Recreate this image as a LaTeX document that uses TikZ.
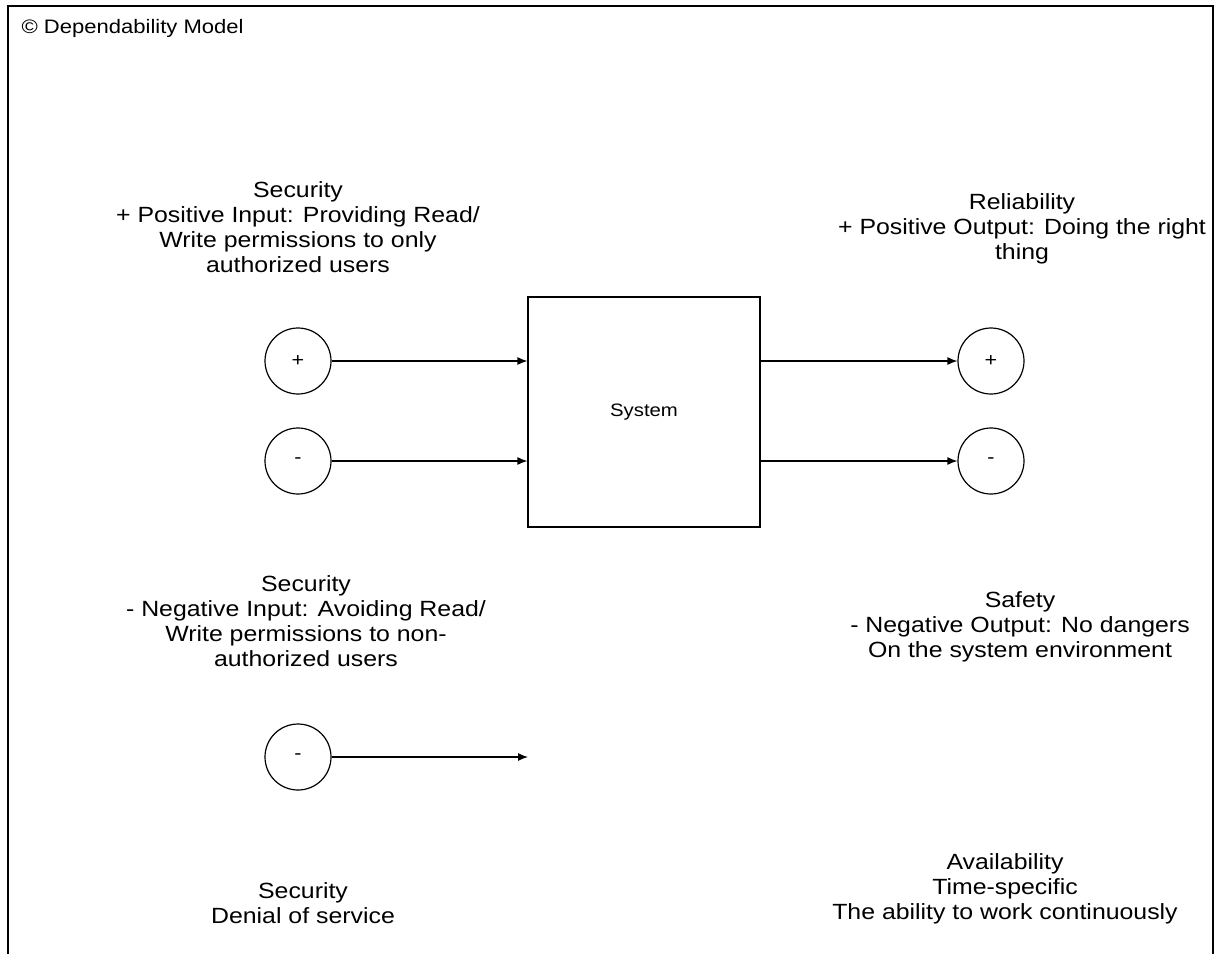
\documentclass[tikz,border=0pt]{standalone}
\usepackage{fontspec}
\setmainfont{Liberation Sans}[FakeStretch=1.13]
\usetikzlibrary{arrows.meta}

\begin{document}
\begin{tikzpicture}
[x=1pt,y=-1pt,>={Latex[length=10pt,width=8pt]},line width=1.2pt,
every node/.style={font=\fontsize{22}{25}\selectfont,align=center,inner sep=0pt},
sign/.style={draw,circle,minimum size=66pt,font=\fontsize{19}{21}\selectfont},
]
\useasboundingbox (0,0) rectangle (1221,954);
% frame
\draw[line width=1.6pt] (8,954) |- (1213,6) -- (1213,954);
\node[anchor=west,font=\fontsize{19.5}{22}\selectfont] (title) at (21,28.5) {\textcopyright{} Dependability Model};

% system and signs
\node[draw,minimum width=232pt,minimum height=230pt,font=\fontsize{18}{20}\selectfont] (sys) at (644,412) {System};
\node[sign] (posin) at (298,361) {+};
\node[sign] (negin) at (298,461) {-};
\node[sign] (dos) at (298,757) {-};
\node[sign] (posout) at (991,361) {+};
\node[sign] (negout) at (991,461) {-};
\coordinate (dosend) at (528,757);

\draw[->] (posin) -- (sys.west |- posin);
\draw[->] (negin) -- (sys.west |- negin);
\draw[->] (dos) -- (dosend);
\draw[->] (sys.east |- posout) -- (posout);
\draw[->] (sys.east |- negout) -- (negout);

% labels
\node (secpos) at (298,227) {Security\\+ Positive Input: Providing Read/\\Write permissions to only\\authorized users};
\node (rel) at (1022,229) {Reliability\\+ Positive Output: Doing the right\\thing};
\node (secneg) at (306,621) {Security\\- Negative Input: Avoiding Read/\\Write permissions to non-\\authorized users};
\node (safe) at (1020,627) {Safety\\- Negative Output: No dangers\\On the system environment};
\node (secdos) at (303,903) {Security\\Denial of service};
\node (avail) at (1005,889) {Availability\\Time-specific\\The ability to work continuously};
\end{tikzpicture}
\end{document}
